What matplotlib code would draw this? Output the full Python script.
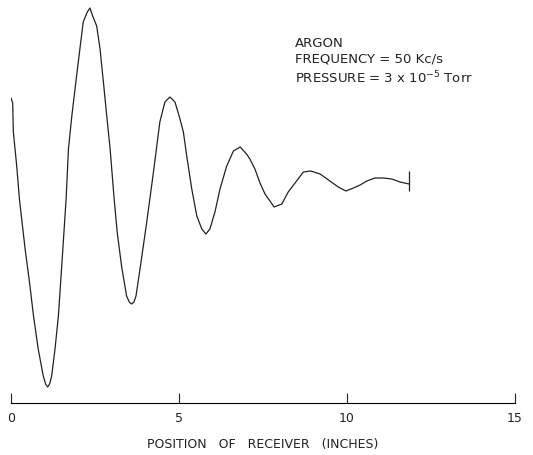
import matplotlib
matplotlib.use("Agg")
import matplotlib.pyplot as plt

# receiver position (inches) and relative signal amplitude
position = [0.0, 0.05, 0.07, 0.17, 0.25, 0.42, 0.55, 0.67, 0.81, 0.96, 1.03,
            1.09, 1.15, 1.21, 1.31, 1.41, 1.51, 1.64, 1.71, 1.81, 1.93, 2.05,
            2.15, 2.27, 2.35, 2.43, 2.55, 2.65, 2.75, 2.85, 2.95, 3.07, 3.16,
            3.29, 3.44, 3.52, 3.59, 3.66, 3.72, 3.84, 4.04, 4.24, 4.43, 4.58,
            4.73, 4.88, 5.03, 5.13, 5.23, 5.38, 5.53, 5.68, 5.80, 5.92, 6.07,
            6.22, 6.42, 6.62, 6.82, 7.01, 7.11, 7.26, 7.41, 7.56, 7.83, 8.06,
            8.25, 8.50, 8.70, 8.92, 9.20, 9.49, 9.74, 9.97, 10.19, 10.39,
            10.59, 10.83, 11.08, 11.33, 11.58, 11.85]
signal = [30.5, 30.0, 27.1, 23.7, 20.4, 15.4, 12.1, 8.7, 5.4, 2.7, 1.9,
          1.6, 1.9, 2.7, 5.4, 8.7, 13.7, 20.4, 25.4, 28.7, 32.1, 35.4,
          38.1, 39.1, 39.5, 38.7, 37.7, 35.4, 32.1, 28.7, 25.4, 20.4, 17.1,
          13.7, 10.7, 10.1, 9.9, 10.1, 10.7, 13.4, 18.1, 23.1, 28.1, 30.1,
          30.6, 30.1, 28.4, 27.1, 24.7, 21.4, 18.7, 17.4, 16.9, 17.4, 19.1,
          21.4, 23.7, 25.2, 25.6, 24.9, 24.4, 23.4, 22.0, 20.9, 19.6, 19.9,
          21.1, 22.2, 23.1, 23.2, 22.9, 22.2, 21.6, 21.2, 21.5, 21.8,
          22.2, 22.5, 22.5, 22.4, 22.1, 21.9]

# end-of-trace marker
end_x = 11.85
end_lo, end_hi = 21.2, 23.2

xticks = [0, 5, 10, 15]
xlabel = "POSITION   OF   RECEIVER   (INCHES)"
note = "ARGON\nFREQUENCY = 50 Kc/s\nPRESSURE = 3 x 10$^{-5}$ Torr"

fig = plt.figure(figsize=(5.33, 4.56), dpi=100)
ax = fig.add_axes([11 / 533, 52 / 456, 504 / 533, 404 / 456])

ax.plot(position, signal, color="#222222", linewidth=0.9)
ax.vlines(end_x, end_lo, end_hi, color="#222222", linewidth=0.9)

ax.set_xlim(0, 15)
ax.set_ylim(0, 40.4)
ax.set_xticks(xticks)
ax.set_yticks([])
for side in ("left", "right", "top"):
    ax.spines[side].set_visible(False)
ax.spines["bottom"].set_linewidth(0.8)
ax.tick_params(axis="x", direction="in", length=7, width=0.8, pad=6,
               labelsize=9, colors="#222222")

ax.set_xlabel(xlabel, fontsize=9, labelpad=9, color="#222222")
ax.text(8.45, 36.7, note, fontsize=9.5, va="top", ha="left",
        linespacing=1.3, color="#222222")

fig.savefig("out.png", dpi=100)
